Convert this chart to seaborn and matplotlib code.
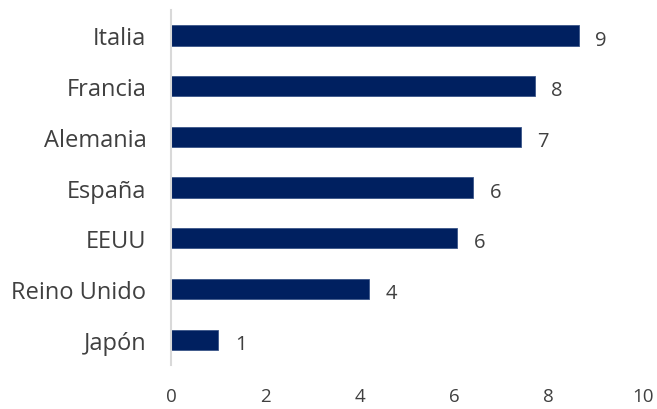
import matplotlib
matplotlib.use("Agg")
import matplotlib.pyplot as plt
import seaborn as sns
import pandas as pd

# Country scores, top to bottom
countries = ["Italia", "Francia", "Alemania", "España", "EEUU", "Reino Unido", "Japón"]
scores = [8.63, 7.70, 7.40, 6.39, 6.05, 4.19, 0.99]
x_ticks = [0, 2, 4, 6, 8, 10]

df = pd.DataFrame({"pais": countries, "valor": scores})

sns.set_theme(style="white")
plt.rcParams["font.family"] = ["Open Sans", "DejaVu Sans"]

text_color = "#404040"
bar_color = "#002060"

fig = plt.figure(figsize=(6.57, 4.10), dpi=100)
ax = fig.add_axes([0.261, 0.107, 0.718, 0.866])

sns.barplot(data=df, x="valor", y="pais", orient="h", color=bar_color,
            width=0.4, saturation=1, ax=ax, edgecolor="#3a5588", linewidth=0.6)

for patch, v in zip(ax.patches, scores):
    ax.annotate(f"{v:.0f}", xy=(patch.get_width(), patch.get_y() + patch.get_height() / 2),
                xytext=(12, -3), textcoords="offset points", ha="left", va="center",
                fontsize=14.5, color=text_color)

ax.set_xlim(0, 10)
ax.set_ylim(6.5, -0.5)
ax.set_xticks(x_ticks)
ax.set_xticklabels([str(t) for t in x_ticks])
ax.set_xlabel("")
ax.set_ylabel("")

for side in ["top", "right", "bottom"]:
    ax.spines[side].set_visible(False)
ax.spines["left"].set_color("#D9D9D9")
ax.spines["left"].set_linewidth(1.5)

ax.tick_params(axis="y", length=0, pad=18, labelsize=17, labelcolor=text_color)
ax.tick_params(axis="x", length=0, pad=16, labelsize=13.5, labelcolor=text_color)

fig.savefig("out.png", dpi=100)
